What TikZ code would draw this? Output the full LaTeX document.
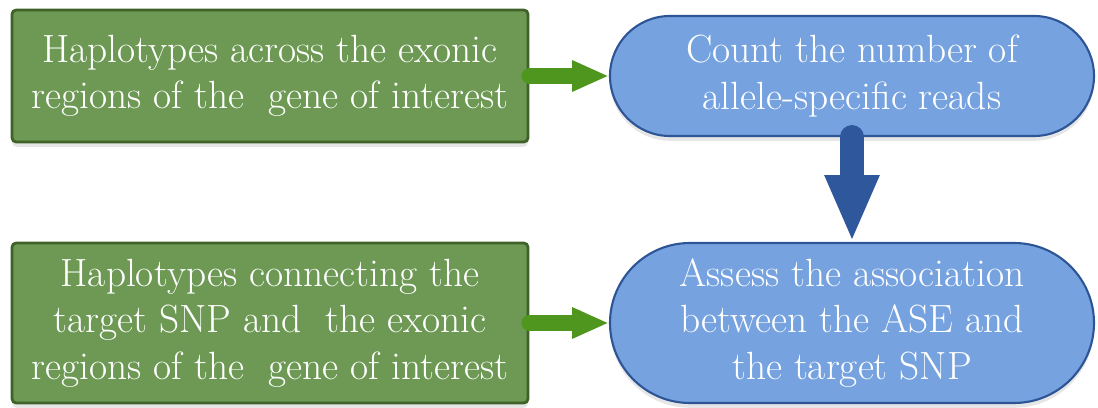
\documentclass[tikz,border=0pt]{standalone}
\usepackage{tikz}
\usetikzlibrary{positioning}
\usetikzlibrary{arrows.meta}
\usetikzlibrary{shadows}

\definecolor{hapfill}{HTML}{6D9954}
\definecolor{hapline}{HTML}{3E6228}
\definecolor{greenarrow}{HTML}{4E961E}
\definecolor{pillfill}{HTML}{76A3E0}
\definecolor{pillline}{HTML}{2D5596}
\definecolor{bluearrow}{HTML}{2E589B}

\tikzset{
    hapbox/.style={draw=hapline, fill=hapfill, line width=2pt, rounded corners=3pt,
        minimum width=12.9cm, text=white, align=center,
        drop shadow={opacity=0.2, shadow xshift=0pt, shadow yshift=-0.12cm}},
    pill/.style={draw=pillline, fill=pillfill, line width=1.5pt,
        minimum width=12.1cm, text=white, align=center,
        drop shadow={opacity=0.2, shadow xshift=0pt, shadow yshift=-0.12cm}},
    greenflow/.style={greenarrow, line width=0.4cm, line cap=round,
        -{Triangle[width=0.72cm, length=0.92cm]}},
    blueflow/.style={bluearrow, line width=0.6cm, line cap=round,
        -{Triangle[width=1.25cm, length=1.67cm]}}
}

\begin{document}
\begin{tikzpicture}[font=\fontsize{28}{33}\selectfont]

        \useasboundingbox (0,0) rectangle (27.45,10.2);

        \node[hapbox, minimum height=3.3cm] (acrosshap) at (6.75,8.3)
            {Haplotypes across the exonic\\regions of the\ \ gene of interest};
        \node[hapbox, minimum height=4cm] (connecthap) at (6.75,2.125)
            {Haplotypes connecting the\\target SNP and\ \ the exonic\\regions of the\ \ gene of interest};

        \node[pill, minimum height=3cm, rounded corners=1.5cm] (countreads) at (21.3,8.3)
            {Count the number of\\allele-specific reads};
        \node[pill, minimum height=4cm, rounded corners=2cm] (assessase) at (21.3,2.125)
            {Assess the association\\between the ASE and\\the target SNP};

        \draw[greenflow] (acrosshap.east) -- (countreads.west);
        \draw[greenflow] (connecthap.east) -- (assessase.west);
        \draw[blueflow] (countreads.south) -- (assessase.north);

    \end{tikzpicture}
\end{document}
